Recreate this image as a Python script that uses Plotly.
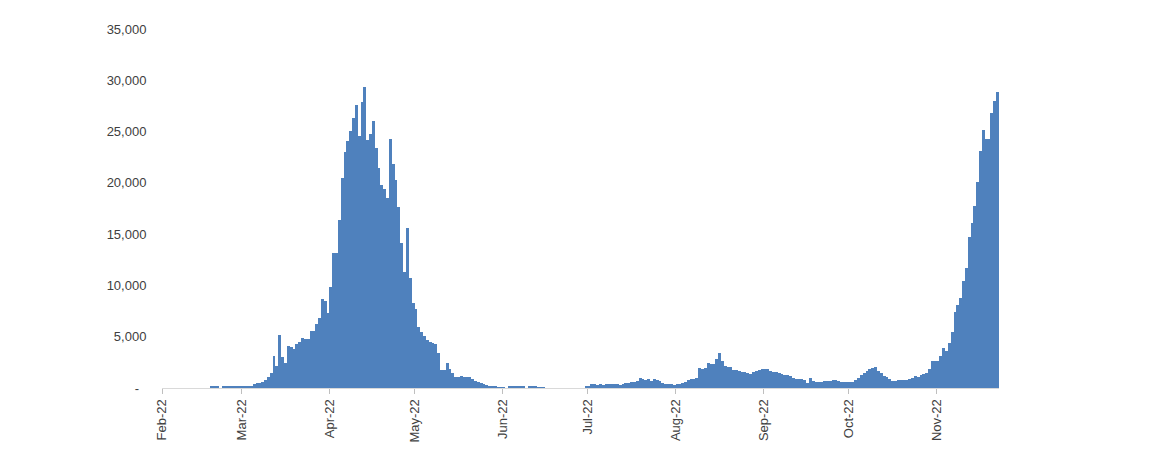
import pandas as pd
import plotly.graph_objects as go

# Daily values, one list per month (2022)
feb = [0]*17 + [150, 150, 150, 0] + [130]*7
mar = [130, 130, 130, 230, 360, 490, 490, 585, 780, 1070, 1460, 3120, 2110, 5135, 3020, 2400,
       4100, 3960, 3800, 4290, 4520, 4870, 4745, 4745, 5560, 5560, 6240, 6825, 8645, 8480, 7280]
apr = [9880, 13160, 13160, 16375, 20440, 23000, 24075, 25080, 26285, 27550, 24560, 27910, 29300,
       24170, 24760, 25990, 23360, 21410, 19750, 19360, 18490, 24300, 21800, 20270, 17670, 14160,
       11270, 15560, 10690, 8250]
may = [7730, 5980, 5490, 5070, 4680, 4515, 4420, 4290, 3380, 1755, 1755, 2400, 1850, 1495, 1040,
       1040, 1170, 1040, 1100, 1040, 845, 715, 550, 455, 390, 290, 230, 160, 100, 65, 20]
jun = [10, 0] + [100]*6 + [0] + [130]*3 + [65]*3 + [0]*14 + [150]
jul = [130, 360, 360, 290, 360, 290, 390, 390, 390, 390, 390, 260, 360, 455, 455, 550, 550, 700,
       940, 845, 780, 845, 680, 880, 750, 650, 520, 420, 360, 390, 325]
aug = [360, 400, 455, 615, 780, 845, 845, 940, 1915, 1820, 1980, 2400, 2300, 2340, 2795, 3380,
       2665, 2180, 2080, 2080, 1755, 1755, 1655, 1525, 1525, 1430, 1330, 1590, 1690, 1755, 1820]
sep = [1820, 1820, 1690, 1590, 1525, 1495, 1330, 1265, 1265, 1140, 1010, 880, 880, 880, 780, 455,
       940, 715, 585, 585, 585, 650, 715, 715, 780, 780, 715, 615, 585, 585]
oct_ = [560, 615, 780, 1010, 1265, 1495, 1690, 1820, 1915, 2010, 1690, 1430, 1200, 1040, 845, 680,
        715, 780, 750, 780, 810, 880, 1010, 1170, 1040, 1235, 1365, 1430, 1850, 2665, 2665]
nov = [2665, 3150, 3870, 3640, 4355, 5490, 7440, 8090, 8740, 10430, 11730, 14750, 16050, 17740,
       20050, 23100, 25150, 24270, 24270, 26770, 27970, 28880]

start_date = "2022-02-01"
end_range = "2022-11-23"
month_ticks = ["2022-02-01", "2022-03-01", "2022-04-01", "2022-05-01", "2022-06-01",
               "2022-07-01", "2022-08-01", "2022-09-01", "2022-10-01", "2022-11-01"]
month_labels = ["Feb-22", "Mar-22", "Apr-22", "May-22", "Jun-22",
                "Jul-22", "Aug-22", "Sep-22", "Oct-22", "Nov-22"]
y_ticks = [0, 5000, 10000, 15000, 20000, 25000, 30000, 35000]
y_labels = ["-\u00a0\u00a0", "5,000", "10,000", "15,000", "20,000", "25,000", "30,000", "35,000"]

values = feb + mar + apr + may + jun + jul + aug + sep + oct_ + nov
dates = pd.date_range(start_date, periods=len(values), freq="D")

font = dict(family="Liberation Sans, Arial, sans-serif", size=13, color="#404040")

fig = go.Figure(go.Bar(
    x=dates, y=values,
    marker=dict(color="#4F81BD", line=dict(width=0)),
    xperiod=86400000, xperiodalignment="middle",
    hoverinfo="x+y",
))

# the page body adds an 8px offset, so the figure is sized/margined to compensate
fig.update_layout(
    width=1151, height=450,
    margin=dict(l=154, r=160, t=21, b=70),
    paper_bgcolor="white", plot_bgcolor="white",
    bargap=0, showlegend=False, font=font,
)
fig.update_xaxes(
    type="date", range=[start_date, end_range],
    tickvals=month_ticks, ticktext=month_labels, tickangle=-90,
    ticks="outside", ticklen=5, tickcolor="#BFBFBF", tickwidth=1,
    showline=True, linecolor="#D9D9D9", linewidth=1,
    showgrid=False, zeroline=False, tickfont=font,
)
fig.update_yaxes(
    range=[0, 35000], tickvals=y_ticks, ticktext=y_labels,
    ticks="outside", ticklen=12, tickcolor="rgba(0,0,0,0)",
    showline=False, showgrid=False, zeroline=False, tickfont=font,
)

fig.write_html("out.html")
